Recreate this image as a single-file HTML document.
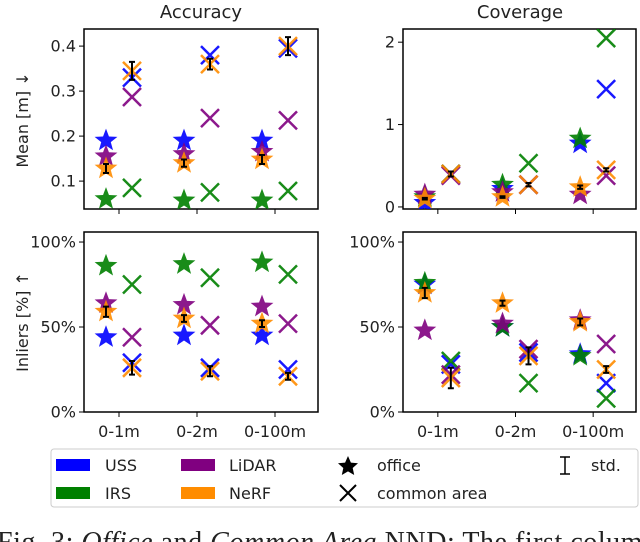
<!DOCTYPE html>
<html><head><meta charset="utf-8"><style>
html,body{margin:0;padding:0;background:#fff;width:640px;height:542px;overflow:hidden}
svg{display:block}
text{font-family:"DejaVu Sans","Liberation Sans",sans-serif;fill:#222}
</style></head><body>
<svg id="fig" width="640" height="542" viewBox="0 0 640 542" xmlns="http://www.w3.org/2000/svg"></svg>
<script>
const categories = ["0-1m","0-2m","0-100m"];
const sensors = ["USS","IRS","LiDAR","NeRF"];
const colors = {USS:"#0000ff",IRS:"#008000",LiDAR:"#800080",NeRF:"#ff8c00"};
// Accuracy (mean m)
const accOffice = {USS:[0.19,0.19,0.19],IRS:[0.06,0.057,0.057],LiDAR:[0.155,0.16,0.165],NeRF:[0.128,0.14,0.148]};
const accOfficeStd = [0.01,0.008,0.01];
const accCommon = {USS:[0.33,0.38,0.395],IRS:[0.085,0.075,0.078],LiDAR:[0.287,0.24,0.235],NeRF:[0.345,0.36,0.4]};
const accCommonStd = [0.02,0.012,0.02];
// Coverage (mean m)
const covOffice = {USS:[0.05,0.22,0.77],IRS:[0.12,0.27,0.83],LiDAR:[0.15,0.18,0.15],NeRF:[0.1,0.12,0.24]};
const covOfficeStd = [0.01,0.01,0.02];
const covCommon = {USS:[0.4,0.27,1.43],IRS:[0.4,0.53,2.05],LiDAR:[0.38,0.27,0.38],NeRF:[0.4,0.27,0.45]};
const covCommonStd = [0.03,0.02,0.02];
// Inliers accuracy (%)
const inAccOffice = {USS:[44,45,45],IRS:[86,87,88],LiDAR:[64,63,62],NeRF:[59,55,52]};
const inAccOfficeStd = [3,2,2];
const inAccCommon = {USS:[29,26,25],IRS:[75,79,81],LiDAR:[44,51,52],NeRF:[26,24,21]};
const inAccCommonStd = [4,3,2];
// Inliers coverage (%)
const inCovOffice = {USS:[75,50,34],IRS:[76,50,33],LiDAR:[48,52,54],NeRF:[70,64,53]};
const inCovOfficeStd = [3,1.5,2];
const inCovCommon = {USS:[28,35,17],IRS:[30,17,8],LiDAR:[22,37,40],NeRF:[20,33,25]};
const inCovCommonStd = [6,5,2];
const accTicks = [0.1,0.2,0.3,0.4];
const covTicks = [0,1,2];
const pctTicks = [0,50,100];
const pctLabels = ["0%","50%","100%"];

const NS="http://www.w3.org/2000/svg";
const svg=document.getElementById('fig');
function mk(tag,attrs,parent){const e=document.createElementNS(NS,tag);for(const k in attrs)e.setAttribute(k,attrs[k]);(parent||svg).appendChild(e);return e;}
function txt(s,attrs,parent){const t=mk('text',attrs,parent);t.textContent=s;return t;}

function starPath(cx,cy,r){let d="";for(let i=0;i<10;i++){const rr=i%2?r*0.42:r;const a=-Math.PI/2+i*Math.PI/5;d+=(i?"L":"M")+(cx+rr*Math.cos(a)).toFixed(2)+","+(cy+rr*Math.sin(a)).toFixed(2);}return d+"Z";}

function panel(name,px,py,pw,ph,ymin,ymax,ticks,tickLabels,office,officeStd,common,commonStd,showX){
  const g=mk('g',{});
  
  
  const ys=v=>py+ph-(v-ymin)/(ymax-ymin)*ph;
  const step=pw/3;
  const xs=i=>px+step*(i+0.5)-4;
  mk('rect',{x:px,y:py,width:pw,height:ph,fill:'#fff',stroke:'#000','stroke-width':1.5},g);
  ticks.forEach((t,i)=>{const y=ys(t);mk('line',{x1:px-5,x2:px,y1:y,y2:y,stroke:'#000'},g);
    const l=txt(tickLabels[i],{x:px-8,y:y+5.5,'text-anchor':'end','font-size':16},g);
    });
  categories.forEach((c,i)=>{const x=xs(i);mk('line',{x1:x,x2:x,y1:py+ph,y2:py+ph+5,stroke:'#000'},g);
    if(showX){const l=txt(c,{x:x,y:py+ph+25,'text-anchor':'middle','font-size':16},g);
      }});
  const clip='clip-'+name;
  const cp=mk('clipPath',{id:clip},g);mk('rect',{x:px,y:py,width:pw,height:ph},cp);
  const m=mk('g',{'clip-path':'url(#'+clip+')'},g);
  sensors.forEach(s=>{categories.forEach((c,i)=>{
    const st=mk('path',{d:starPath(xs(i)-13,ys(office[s][i]),12),fill:colors[s],opacity:0.9},m);
    
    
    const cx=xs(i)+13,cy=ys(common[s][i]),r=9;
    const cr=mk('path',{d:`M${cx-r},${cy-r}L${cx+r},${cy+r}M${cx-r},${cy+r}L${cx+r},${cy-r}`,stroke:colors[s],'stroke-width':2.5,fill:'none',opacity:0.9},m);
    
    
  });});
  function eb(x,v,sd){const y1=ys(v-sd),y2=ys(v+sd);
    const e=mk('path',{d:`M${x},${y1}L${x},${y2}M${x-3},${y1}L${x+3},${y1}M${x-3},${y2}L${x+3},${y2}`,stroke:'#000','stroke-width':2,fill:'none'},m);
    
    }
  categories.forEach((c,i)=>{eb(xs(i)-13,office.NeRF[i],officeStd[i]);eb(xs(i)+13,common.NeRF[i],commonStd[i]);});
}
panel('accuracy-mean-panel',84,29,234,180,0.038,0.438,accTicks,["0.1","0.2","0.3","0.4"],accOffice,accOfficeStd,accCommon,accCommonStd,false);
panel('coverage-mean-panel',403,29,233,180,-0.025,2.16,covTicks,["0","1","2"],covOffice,covOfficeStd,covCommon,covCommonStd,false);
panel('accuracy-inliers-panel',84,232,234,180,0,105.9,pctTicks,pctLabels,inAccOffice,inAccOfficeStd,inAccCommon,inAccCommonStd,true);
panel('coverage-inliers-panel',403,232,233,180,0,105.9,pctTicks,pctLabels,inCovOffice,inCovOfficeStd,inCovCommon,inCovCommonStd,true);
</script>
<svg style="position:absolute;left:0;top:0" width="640" height="542">
<text x="201" y="18" text-anchor="middle" font-size="18">Accuracy</text>
<text x="520" y="18" text-anchor="middle" font-size="18">Coverage</text>
<text transform="translate(28,120) rotate(-90)" text-anchor="middle" font-size="16">Mean [m] ↓</text>
<text transform="translate(28,322) rotate(-90)" text-anchor="middle" font-size="16">Inliers [%] ↑</text>
<g>
<rect x="51" y="449" width="587" height="58" rx="3" fill="#fff" stroke="#ccc"/>
<rect x="56" y="459" width="34" height="12" fill="#0000ff"/>
<text x="105" y="471" font-size="16">USS</text>
<rect x="56" y="487" width="34" height="12" fill="#008000"/>
<text x="105" y="499" font-size="16">IRS</text>
<rect x="181" y="459" width="34" height="12" fill="#800080"/>
<text x="229" y="471" font-size="16">LiDAR</text>
<rect x="181" y="487" width="34" height="12" fill="#ff8c00"/>
<text x="229" y="499" font-size="16">NeRF</text>
<path d="M348,456L350.9,462.6L358,463.3L352.7,468L354.2,475L348,471.4L341.8,475L343.3,468L338,463.3L345.1,462.6Z" fill="#000"/>
<text x="377" y="471" font-size="16">office</text>
<path d="M340,485L356,501M340,501L356,485" stroke="#000" stroke-width="2"/>
<text x="377" y="499" font-size="16">common area</text>
<path d="M565,457L565,474M560,457L570,457M560,474L570,474" stroke="#000" stroke-width="1.5" fill="none"/>
<text x="591" y="471" font-size="16">std.</text>
</g>
<text x="-3" y="551" font-size="28" textLength="660" style="font-family:'Liberation Serif',serif">Fig. 3: <tspan font-style="italic">Office</tspan> and <tspan font-style="italic">Common Area</tspan> NND: The first column</text>
</svg>
</body></html>
